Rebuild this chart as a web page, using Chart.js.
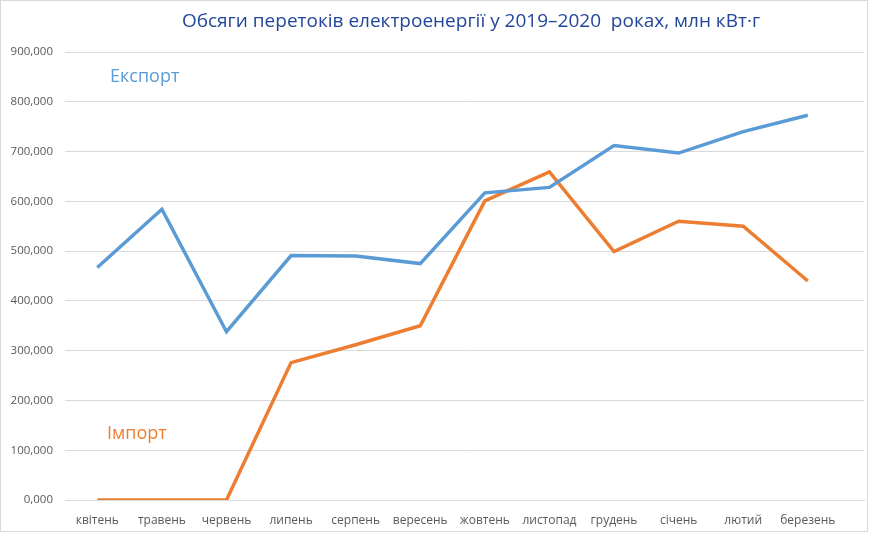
<!DOCTYPE html>
<html>
<head>
<meta charset="utf-8">
<script src="https://cdn.jsdelivr.net/npm/chart.js@4.4.1/dist/chart.umd.min.js"></script>
<style>
  html, body { margin: 0; padding: 0; background: #fff; }
  #wrap { position: relative; width: 874px; height: 534px; }
  #frame { position: absolute; left: 0; top: 0; width: 866px; height: 530px; border: 1px solid #d9d9d9; pointer-events: none; }
</style>
</head>
<body>
<div id="wrap">
  <canvas id="chart" width="874" height="534"></canvas>
  <div id="frame"></div>
</div>
<script>
const TITLE = 'Обсяги перетоків електроенергії у 2019–2020  роках, млн кВт·г';
const months = ['квітень', 'травень', 'червень', 'липень', 'серпень', 'вересень',
  'жовтень', 'листопад', 'грудень', 'січень', 'лютий', 'березень'];
const exportValues = [467, 584, 338, 491, 490, 475, 617, 628, 712, 697, 740, 773];
const importValues = [0, 0, 0, 276, 312, 350, 601, 659, 499, 560, 550, 440];
const seriesNames = ['Експорт', 'Імпорт'];

const BLUE = '#5b9bd5';
const ORANGE = '#ed7d31';
const FONT = '"Open Sans", "Noto Sans", sans-serif';

// index/value pairs so the x axis can run a little past the last month, like in Excel
const toPoints = (vals) => vals.map((v, i) => ({x: i, y: v}));

// title and series labels drawn on the canvas
const labelsPlugin = {
  id: 'labels',
  afterDraw(chart) {
    const ctx = chart.ctx;
    ctx.save();
    ctx.textBaseline = 'middle';
    ctx.textAlign = 'center';
    ctx.fillStyle = '#22479a';
    ctx.font = '19px ' + FONT;
    ctx.fillText(TITLE, 471, 22);

    ctx.textAlign = 'left';
    ctx.font = '18px ' + FONT;
    ctx.fillStyle = BLUE;
    ctx.fillText(seriesNames[0], 110, 77);
    ctx.fillStyle = ORANGE;
    ctx.fillText(seriesNames[1], 107, 434);
    ctx.restore();
  },
};

new Chart(document.getElementById('chart'), {
  type: 'line',
  data: {
    datasets: [
      {
        label: seriesNames[0],
        data: toPoints(exportValues),
        borderColor: BLUE,
        borderWidth: 3.5,
        pointRadius: 0,
        tension: 0,
      },
      {
        label: seriesNames[1],
        data: toPoints(importValues),
        borderColor: ORANGE,
        borderWidth: 3.5,
        pointRadius: 0,
        tension: 0,
      },
    ],
  },
  options: {
    responsive: false,
    animation: false,
    layout: {padding: {top: 52, left: 7, right: 10, bottom: 0}},
    plugins: {
      legend: {display: false},
      tooltip: {enabled: false},
    },
    scales: {
      x: {
        type: 'linear',
        min: -0.5,
        max: 11.87,
        afterBuildTicks: (scale) => {
          scale.ticks = months.map((m, i) => ({value: i}));
        },
        afterFit: (scale) => {
          scale.height = 34;
        },
        grid: {display: false},
        border: {color: '#d9d9d9', width: 1},
        ticks: {
          autoSkip: false,
          maxRotation: 0,
          padding: 5,
          color: '#595959',
          font: {family: FONT, size: 12},
          callback: (v) => months[v],
        },
      },
      y: {
        min: 0,
        max: 900,
        afterFit: (scale) => {
          scale.width = 58;
        },
        grid: {color: '#d9d9d9', lineWidth: 1, drawTicks: false},
        border: {display: false},
        ticks: {
          stepSize: 100,
          padding: 12,
          color: '#595959',
          font: {family: FONT, size: 11.5},
          callback: (v) => v.toFixed(3).replace('.', ','),
        },
      },
    },
  },
  plugins: [labelsPlugin],
});
</script>
</body>
</html>
